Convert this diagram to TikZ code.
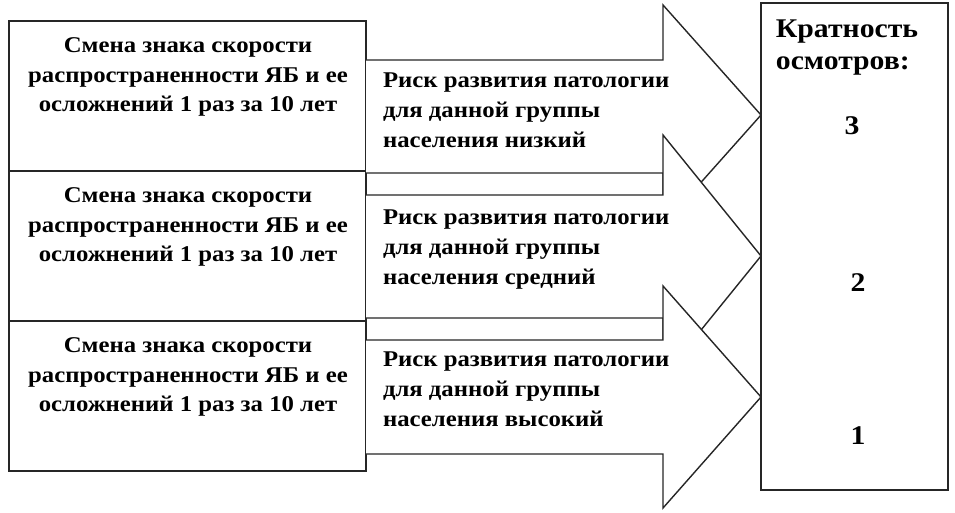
\documentclass[tikz,border=0pt]{standalone}
\usepackage{fontspec}
\setmainfont{Liberation Serif}[FakeStretch=1.1]
\begin{document}
\begin{tikzpicture}[x=1pt,y=-1pt,
  every node/.style={inner sep=0pt,outer sep=0pt},
  lbox/.style={draw=black!85,line width=1.4pt,minimum width=357pt,minimum height=150pt,anchor=north west},
  ltext/.style={font=\bfseries\fontsize{22.5}{29.5}\selectfont,align=center,anchor=north},
  atext/.style={font=\bfseries\fontsize{22.5}{30}\selectfont,align=left,anchor=north west},
  bigarrow/.style={draw=black!85,fill=white,line width=1.4pt,line join=miter},
  rtext/.style={font=\bfseries\fontsize{27}{32}\selectfont,align=left,anchor=north},
  num/.style={font=\bfseries\fontsize{27}{32}\selectfont}]
\useasboundingbox (0,0) rectangle (955,513);
% left boxes
\node[lbox] (b1) at (9,21) {};
\node[lbox] (b2) at (9,171) {};
\node[lbox] (b3) at (9,321) {};
\node[ltext] (t1) at (188,38) {Смена знака скорости\\распространенности ЯБ и ее\\осложнений 1 раз за 10 лет};
\node[ltext] (t2) at (188,188) {Смена знака скорости\\распространенности ЯБ и ее\\осложнений 1 раз за 10 лет};
\node[ltext] (t3) at (188,338) {Смена знака скорости\\распространенности ЯБ и ее\\осложнений 1 раз за 10 лет};
% right box
\node[draw=black!85,line width=1.4pt,minimum width=187pt,minimum height=487pt,anchor=north west] (r) at (761,3) {};
% arrows
\draw[bigarrow] (b1.east |- 0,60) -- (663,60) -- (663,5) -- (r.west |- 0,115) -- (663,225) -- (663,173) -- (b1.east |- 0,173);
\draw[bigarrow] (b2.east |- 0,195) -- (663,195) -- (663,135) -- (r.west |- 0,256) -- (663,377) -- (663,318) -- (b2.east |- 0,318);
\draw[bigarrow] (b3.east |- 0,340) -- (663,340) -- (663,286) -- (r.west |- 0,397) -- (663,508) -- (663,454) -- (b3.east |- 0,454);
\node[atext] (a1) at (383,73) {Риск развития патологии\\для данной группы\\населения низкий};
\node[atext] (a2) at (383,210) {Риск развития патологии\\для данной группы\\населения средний};
\node[atext] (a3) at (383,352) {Риск развития патологии\\для данной группы\\населения высокий};
% right texts
\node[rtext] (rt) at (847,20) {Кратность\\осмотров:};
\node[num] (n3) at (852,126) {3};
\node[num] (n2) at (858,283) {2};
\node[num] (n1) at (858,436) {1};
\end{tikzpicture}
\end{document}
